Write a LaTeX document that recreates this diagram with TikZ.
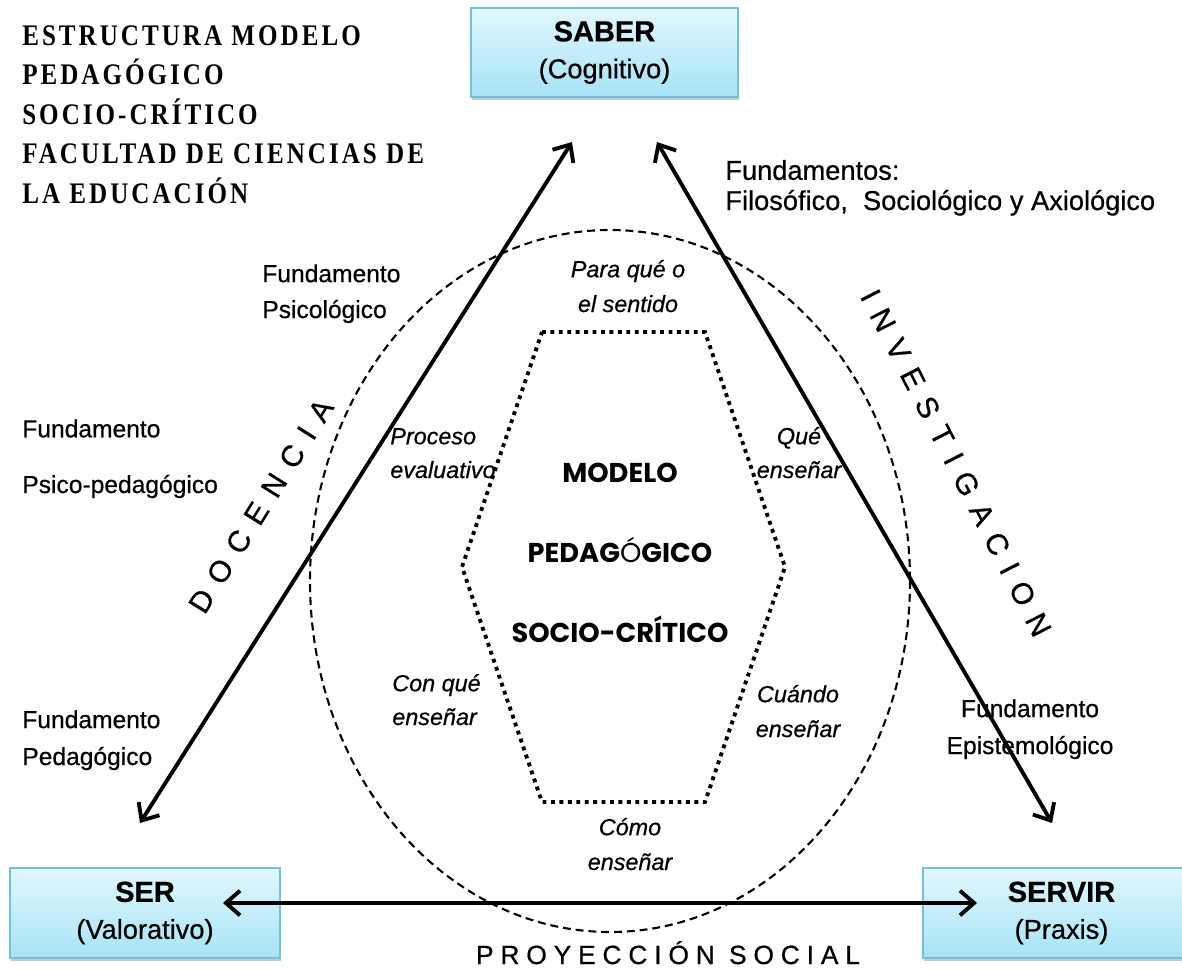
\documentclass[tikz,border=0pt]{standalone}
\usepackage{fontspec}
\setmainfont{Liberation Sans}[FakeBold=0.6]
\newfontfamily\titlefont{Liberation Serif}[LetterSpace=12]
\newfontfamily\spacedsans{Liberation Sans}[LetterSpace=42, FakeBold=0.6]
\newfontfamily\spacedbottom{Liberation Sans}[LetterSpace=26, FakeBold=0.6]
\newfontfamily\gothic{Poppins}
\usetikzlibrary{arrows.meta,shadows}
\definecolor{boxtop}{HTML}{E2F7FD}
\definecolor{boxbot}{HTML}{A6E3F6}
\definecolor{boxline}{HTML}{6EC2D9}
\tikzset{
  box/.style={draw=boxline, line width=0.8pt, top color=boxtop, bottom color=boxbot,
    align=center, inner sep=0pt, font=\fontsize{15.5}{21}\selectfont,
    drop shadow={shadow xshift=0.8pt, shadow yshift=-1.6pt, opacity=0.3, fill=black!70}},
  lbl/.style={inner sep=0pt, font=\fontsize{14}{20.4}\selectfont},
  ital/.style={inner sep=0pt, font=\fontsize{13.3}{19.2}\selectfont\itshape},
  arr/.style={line width=2.2pt, >={Straight Barb[length=8pt,width=14pt]}, <->},
  dashedellipse/.style={draw, line width=1.2pt, dash pattern=on 4.5pt off 2.8pt},
  dottedhex/.style={draw, line width=2.2pt, dash pattern=on 2.2pt off 2.6pt},
  spaced/.style={inner sep=0pt, font=\fontsize{17}{20}\spacedsans}
}
\begin{document}
\begin{tikzpicture}[x=0.02cm, y=-0.02cm]
\useasboundingbox (0,0) rectangle (1182,977);

% title
\node[inner sep=0pt, anchor=base west, align=left, xscale=0.84,
  font=\fontsize{17}{22.4}\titlefont\bfseries] (title) at (22,203)
  {ESTRUCTURA MODELO\\PEDAGÓGICO\\SOCIO-CRÍTICO\\FACULTAD DE CIENCIAS DE\\LA EDUCACIÓN};

% ellipse and hexagon
\draw[dashedellipse] (610,581) ellipse [x radius=300, y radius=351];
\draw[dottedhex] (542,332) -- (705,332) -- (785,567) -- (705,802) -- (542,802) -- (462,567) -- cycle;

% boxes
\node[box, minimum width=5.34cm, minimum height=1.78cm] (saber) at (604.5,52.5)
  {{\fontsize{16.5}{21}\selectfont\bfseries SABER}\\(Cognitivo)};
\node[box, minimum width=5.4cm, minimum height=1.8cm] (ser) at (145,913)
  {{\fontsize{16.5}{21}\selectfont\bfseries SER}\\(Valorativo)};
\node[box, minimum width=5.54cm, minimum height=1.8cm] (servir) at (1061.5,913)
  {{\fontsize{16.5}{21}\selectfont\bfseries SERVIR}\\(Praxis)};

% arrow ends
\coordinate (Lt) at (572,142);
\coordinate (Lb) at (140,823);
\coordinate (Rt) at (657,142);
\coordinate (Rb) at (1052,823);
\coordinate (Bl) at (223,903);
\coordinate (Br) at (977,903);
\draw[arr] (Lb) -- (Lt);
\draw[arr] (Rt) -- (Rb);
\draw[arr] (Bl) -- (Br);

% side labels
\node[lbl, anchor=base west, align=left] (fpsico) at (262,318) {Fundamento\\Psicológico};
\node[lbl, anchor=base west, align=left, font=\fontsize{14}{31.7}\selectfont] (fpsped) at (22,493) {Fundamento\\Psico-pedagógico};
\node[lbl, anchor=base west, align=left, font=\fontsize{14}{21}\selectfont] (fped) at (22,765) {Fundamento\\Pedagógico};
\node[lbl, anchor=base west, align=left, font=\fontsize{15.5}{17.2}\selectfont] (ffil) at (725,210) {Fundamentos:\\Filosófico,\ \ Sociológico y Axiológico};
\node[lbl, anchor=base, align=center, font=\fontsize{14}{21}\selectfont] (fepi) at (1030,754) {Fundamento\\Epistemológico};

% rotated labels
\node[spaced, rotate=58] (docencia) at (261,506) {DOCENCIA};
\node[spaced, rotate=-63] (invest) at (956,463) {INVESTIGACION};
\node[inner sep=0pt, anchor=base, font=\fontsize{15}{18}\spacedbottom] (proy) at (668,964) {PROYECCIÓN SOCIAL};

% italic labels
\node[ital, anchor=base, align=center, font=\fontsize{13.3}{19.8}\selectfont\itshape] (para) at (628,312) {Para qué o\\el sentido};
\node[ital, anchor=base west, align=left] (proc) at (390,478) {Proceso\\evaluativo};
\node[ital, anchor=base, align=center] (que) at (799,478) {Qué\\enseñar};
\node[ital, anchor=base west, align=left] (conque) at (392,725) {Con qué\\enseñar};
\node[ital, anchor=base, align=center, font=\fontsize{13.3}{19.8}\selectfont\itshape] (cuando) at (798,737) {Cuándo\\enseñar};
\node[ital, anchor=base, align=center, font=\fontsize{13.3}{19.8}\selectfont\itshape] (como) at (630,870) {Cómo\\enseñar};

% centre
\node[inner sep=0pt, anchor=base, align=center, font=\fontsize{15.5}{45.4}\gothic\bfseries] (modelo) at (620,642)
  {MODELO\\PEDAG{\mdseries Ó}GICO\\SOCIO-CRÍTICO};
\end{tikzpicture}
\end{document}
